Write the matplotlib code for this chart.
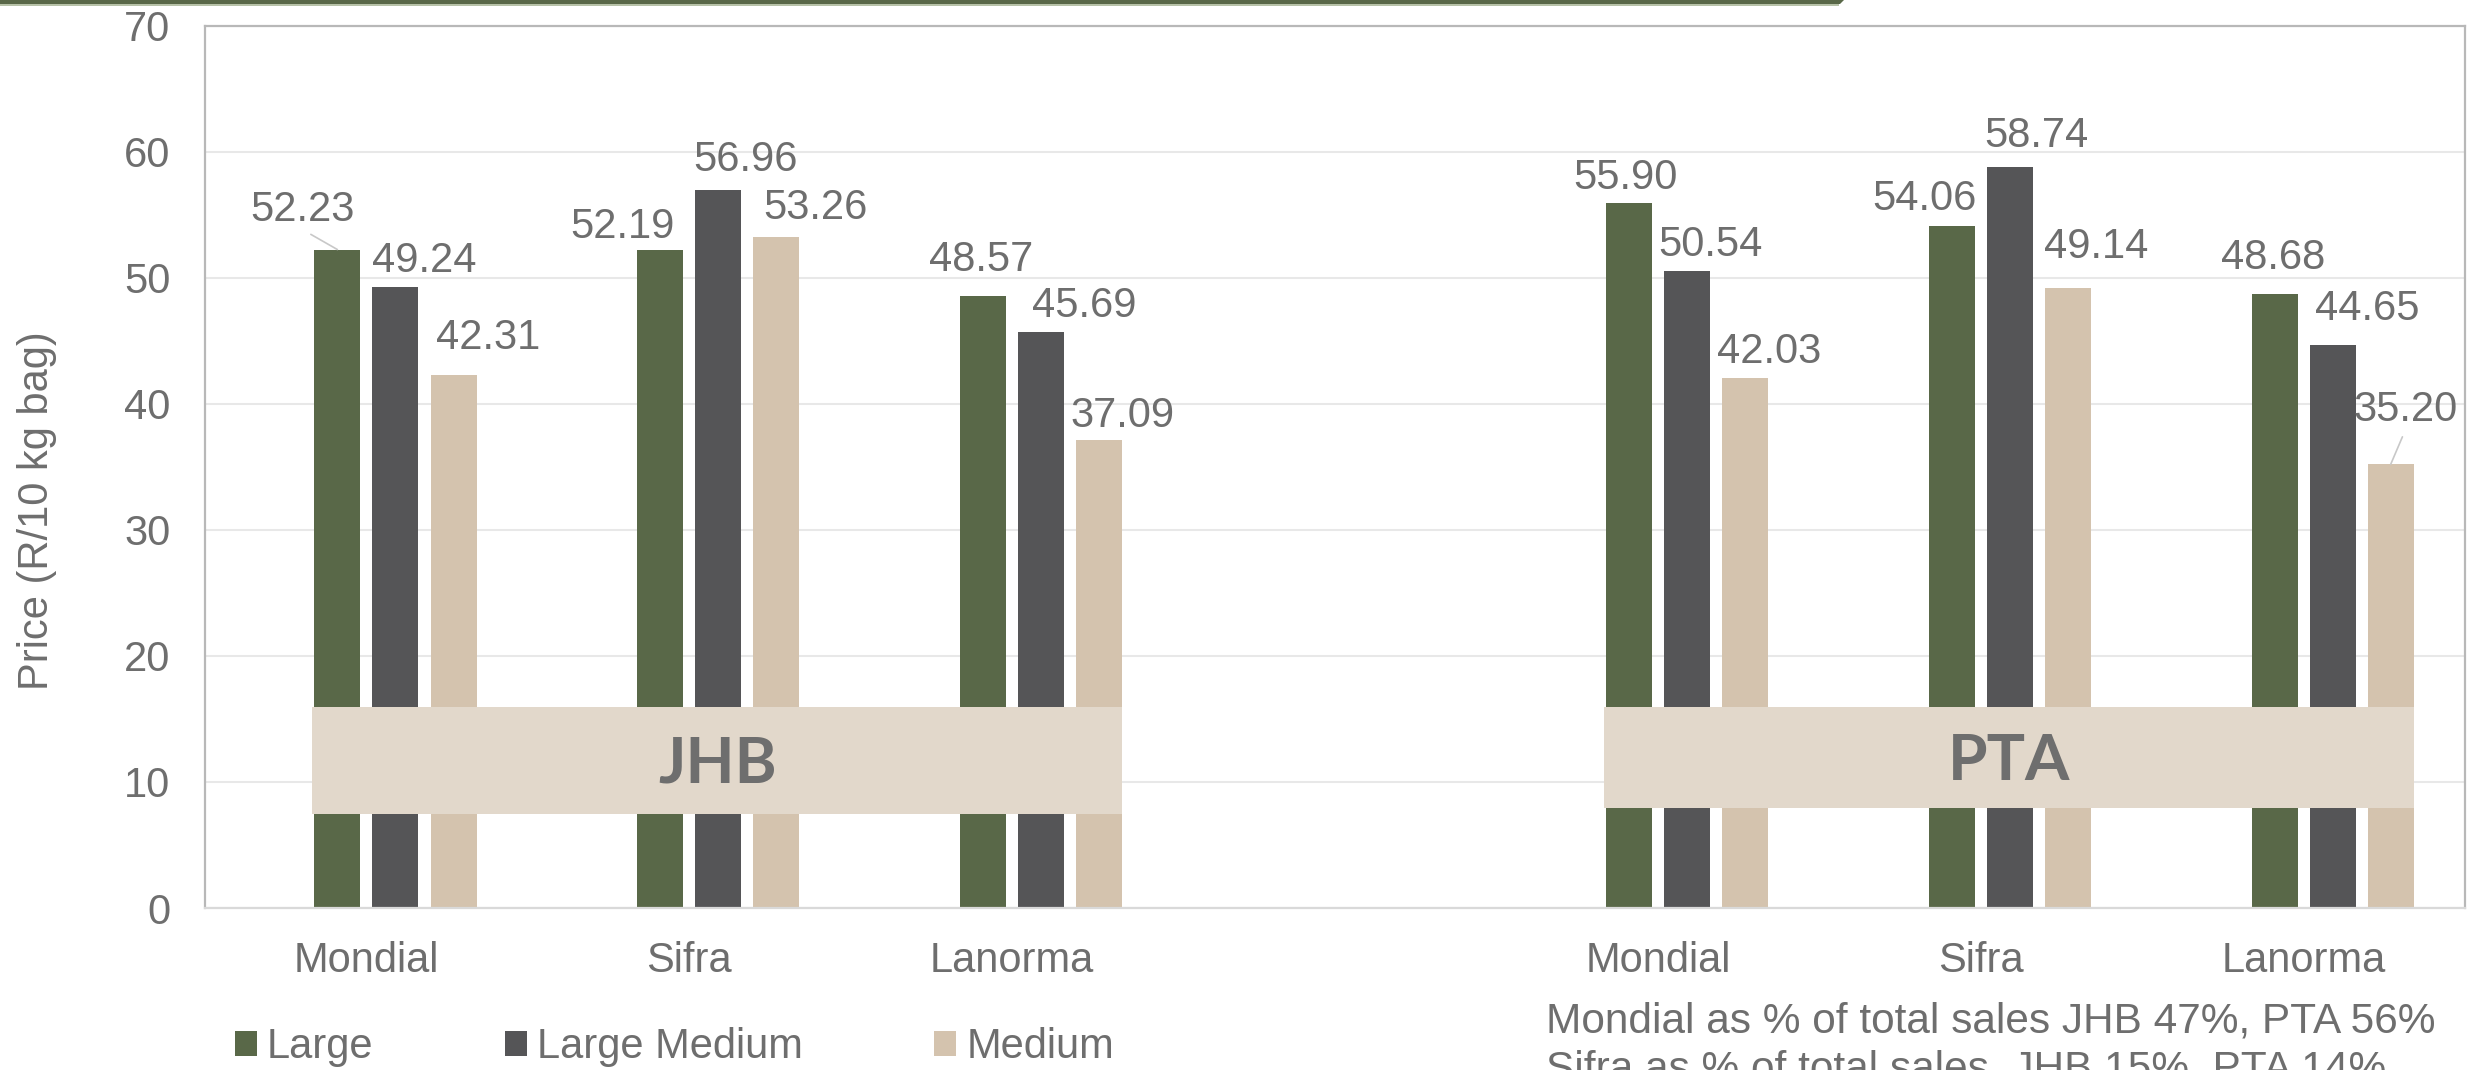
import numpy as np
import matplotlib.pyplot as plt
from matplotlib.patches import Polygon, Rectangle, Patch

plt.rcParams['font.family'] = ['Liberation Sans', 'DejaVu Sans']

# data
categories = ['Mondial', 'Sifra', 'Lanorma', '', 'Mondial', 'Sifra', 'Lanorma']
large = [52.23, 52.19, 48.57, np.nan, 55.90, 54.06, 48.68]
large_medium = [49.24, 56.96, 45.69, np.nan, 50.54, 58.74, 44.65]
medium = [42.31, 53.26, 37.09, np.nan, 42.03, 49.14, 35.20]
series_names = ['Large', 'Large Medium', 'Medium']
regions = ['JHB', 'PTA']
region_slots = [(0, 2), (4, 6)]
notes = ['Mondial as % of total sales JHB 47%, PTA 56%',
         'Sifra as % of total sales  JHB 15%, PTA 14%']

colors = ['#596848', '#555557', '#D4C3AE']
txt = '#6E6E6E'

# label offsets (pixels) from bar top, per series
lab_dx = [[-35, -38, -2, 0, -3.5, -27.5, -1],
          [29, 27.5, 43, 0, 24, 27, 34.5],
          [35, 39, 23, 0, 24, 28, 14.5]]
lab_dy = [[40, 23, 36, 0, 25, 27, 36],
          [26, 30, 26, 0, 26, 31, 36],
          [37, 29, 24, 0, 26, 41, 54]]
leaders = [(0, 0), (2, 6)]

W, H = 2471, 1070
fig = plt.figure(figsize=(W / 100, H / 100), dpi=100)
ax = fig.add_axes([205 / W, 1 - 908 / H, 2260 / W, 882.5 / H])

x = np.arange(len(categories))
step = 0.18
width = 0.1424
offs = (np.arange(4) - 1.5) * step  # first slot is an empty series

for i, vals in enumerate([large, large_medium, medium]):
    xs = x + offs[i + 1]
    ax.bar(xs, vals, width, color=colors[i], zorder=2, label=series_names[i])
    for j, v in enumerate(vals):
        if np.isnan(v):
            continue
        ap = None
        if (i, j) in leaders:
            ap = dict(arrowstyle='-', color='#C8C8C8', lw=1.2, relpos=(0.5, 0),
                      shrinkA=3, shrinkB=0)
        ax.annotate(f'{v:.2f}', xy=(xs[j], v), xytext=(lab_dx[i][j], lab_dy[i][j]),
                    textcoords='offset pixels', ha='center', va='center',
                    fontsize=30, color=txt, arrowprops=ap, zorder=4)

# region boxes
box_y = [(7.45, 15.94), (7.93, 15.94)]
for name, (a, b), (y0, y1) in zip(regions, region_slots, box_y):
    x0 = a - 0.168
    x1 = b + offs[3] + width / 2
    ax.add_patch(Rectangle((x0, y0), x1 - x0, y1 - y0, facecolor='#E2D8CB',
                           edgecolor='none', zorder=3))
    ax.text((x0 + x1) / 2, (y0 + y1) / 2 - 0.3, name, ha='center', va='center',
            fontsize=46, fontweight='bold', color=txt, family=['Lato', 'DejaVu Sans'],
            zorder=4)

ax.set_xlim(-0.5, len(categories) - 0.5)
ax.set_ylim(0, 70)
ax.set_yticks(range(0, 71, 10))
ax.set_xticks(x)
ax.set_xticklabels(categories)
ax.tick_params(length=0, labelsize=30, labelcolor=txt)
ax.tick_params(axis='y', pad=25)
ax.tick_params(axis='x', pad=24)
ax.grid(axis='y', color='#E8E8E8', lw=1.5, zorder=0)
ax.set_axisbelow(True)
for s in ['left', 'top', 'right']:
    ax.spines[s].set_color('#B8B8B8')
    ax.spines[s].set_linewidth(1.6)
ax.spines['bottom'].set_color('#D9D9D9')
ax.spines['bottom'].set_linewidth(1.6)

fig.text(37 / W, 1 - 511 / H, 'Price (R/10 kg bag)', rotation=90, ha='center',
         va='center', fontsize=30, color=txt)

handles = [Patch(facecolor=c) for c in colors]
fig.legend(handles, series_names, loc='upper left', bbox_to_anchor=(235 / W, 1 - 1027 / H),
           ncol=3, frameon=False, fontsize=30, labelcolor=txt, handlelength=0.53,
           handleheight=0.53, handletextpad=0.24, columnspacing=3.15, borderpad=0,
           borderaxespad=0)

fig.text(1546 / W, 1 - 1033 / H, notes[0], ha='left', va='baseline', fontsize=30.5, color=txt)
fig.text(1546 / W, 1 - 1081 / H, notes[1], ha='left', va='baseline', fontsize=30.5, color=txt)

# green banner at top
fig.patches.append(Polygon([(0, 1), (1844 / W, 1), (1840 / W, 1 - 4 / H), (0, 1 - 4 / H)],
                           closed=True, transform=fig.transFigure, facecolor='#596848',
                           edgecolor='none'))
fig.patches.append(Rectangle((0, 1 - 5.5 / H), 1839 / W, 1.5 / H, transform=fig.transFigure,
                             facecolor='#B7C2A8', edgecolor='none'))

fig.savefig('out.png', dpi=100)
